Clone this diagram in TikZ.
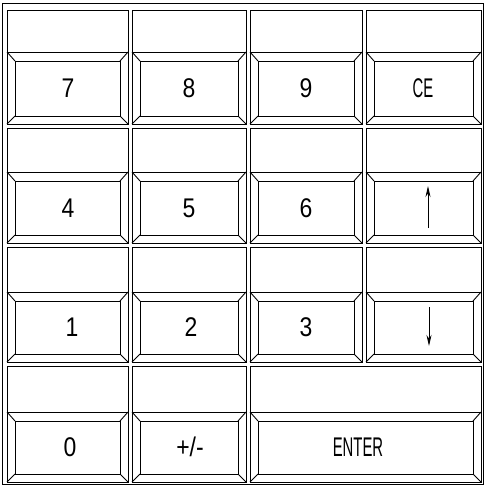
\documentclass[tikz,border=0pt]{standalone}
\usepackage{fontspec}
\setmainfont{Liberation Sans}
\usetikzlibrary{arrows.meta}
\tikzset{
  keyline/.style={line width=0.9pt},
  digit/.style={font=\fontsize{27}{27}\selectfont, xscale=0.85, inner sep=0pt},
  letters/.style={font=\fontsize{27}{27}\selectfont, xscale=0.55, inner sep=0pt},
  arrowline/.style={line width=0.9pt, -{Stealth[length=11pt,width=5pt]}}
}
\newcommand\kbkey[5]{%
  \draw[keyline] (#1,#3) rectangle (#2,#5);
  \draw[keyline] (#1,#4) -- (#2,#4);
  \draw[keyline] (#1+8,#4+9) rectangle (#2-8,#5-8);
  \draw[keyline] (#1,#4) -- (#1+8,#4+9) (#2,#4) -- (#2-8,#4+9)
                 (#1,#5) -- (#1+8,#5-8) (#2,#5) -- (#2-8,#5-8);
}
\begin{document}
\begin{tikzpicture}[x=1pt,y=-1pt]
\useasboundingbox (0,0) rectangle (485,485);
\draw[keyline] (2,3) rectangle (483,484);
% row 1
\kbkey{7}{128}{10}{52}{124}
\kbkey{132}{246}{10}{52}{124}
\kbkey{250}{362}{10}{52}{124}
\kbkey{366}{481}{10}{52}{124}
% row 2
\kbkey{7}{128}{128}{172}{243}
\kbkey{132}{246}{128}{172}{243}
\kbkey{250}{362}{128}{172}{243}
\kbkey{366}{481}{128}{172}{243}
% row 3
\kbkey{7}{128}{247}{292}{362}
\kbkey{132}{246}{247}{292}{362}
\kbkey{250}{362}{247}{292}{362}
\kbkey{366}{481}{247}{292}{362}
% row 4
\kbkey{7}{128}{366}{412}{482}
\kbkey{132}{246}{366}{412}{482}
\kbkey{250}{481}{366}{412}{482}
% labels
\node[digit] (k7) at (68,88) {7};
\node[digit] (k8) at (189,88) {8};
\node[digit] (k9) at (306,88) {9};
\node[letters] (kce) at (423,88) {CE};
\node[digit] (k4) at (68,208) {4};
\node[digit] (k5) at (189,208) {5};
\node[digit] (k6) at (306,208) {6};
\node[digit] (k1) at (72,327) {1};
\node[digit] (k2) at (191,327) {2};
\node[digit] (k3) at (306,327) {3};
\node[digit] (k0) at (70,447) {0};
\node[digit] (kpm) at (190,447) {+/-};
\node[letters] (kenter) at (358,447) {ENTER};
% arrows
\coordinate (upS) at (428,228);
\coordinate (upE) at (428,186);
\coordinate (dnS) at (429,307);
\coordinate (dnE) at (429,346);
\draw[arrowline] (upS) -- (upE);
\draw[arrowline] (dnS) -- (dnE);
\end{tikzpicture}
\end{document}
